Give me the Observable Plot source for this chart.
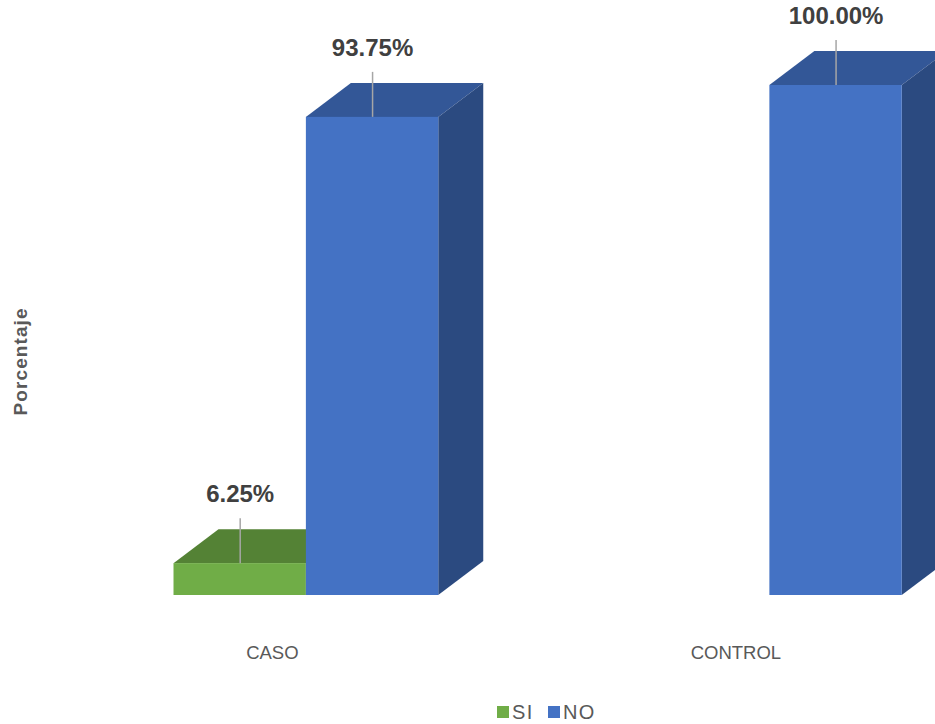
<!DOCTYPE html>
<html>
<head>
<meta charset="utf-8">
<script src="https://cdn.jsdelivr.net/npm/d3@7"></script>
<script src="https://cdn.jsdelivr.net/npm/@observablehq/plot@0.6"></script>
<style>
  html, body { margin: 0; padding: 0; background: #fff; }
  #chart svg { display: block; }
  #legend { height: 24px; display: flex; align-items: center; padding-left: 497px;
            font-family: "Liberation Sans", Arial, sans-serif; font-size: 20px; letter-spacing: 1.5px; color: #595959; }
  #legend .item { display: flex; align-items: center; margin-right: 14px; }
  #legend .sw { width: 12px; height: 12px; margin-right: 3px; }
</style>
</head>
<body>
<div id="chart"></div>
<div id="legend"></div>
<script>
const categories = ["CASO", "CONTROL"];
const series = ["SI", "NO"];
const siValues = [6.25, 0];
const noValues = [93.75, 100];
const frontColors = ["#70AD47", "#4472C4"];
const topColors = ["#548235", "#335797"];
const sideColors = ["#466E2C", "#2B4A80"];

const data = categories.flatMap((c, i) => [
  {category: c, series: "SI", value: siValues[i]},
  {category: c, series: "NO", value: noValues[i]}
]);
const bars = data.filter(d => d.value > 0);
const si = d => series.indexOf(d.series);

const DX = 45, DY = 34;
function face(kind) {
  return function(index, scales, values, dimensions, context, next) {
    const g = next(index, scales, values, dimensions, context);
    const doc = (context && context.document) || document;
    Array.from(g.querySelectorAll("rect")).forEach(r => {
      const x = +r.getAttribute("x"), y = +r.getAttribute("y");
      const w = +r.getAttribute("width"), h = +r.getAttribute("height");
      const pts = kind === "top"
        ? [[x, y], [x + w, y], [x + w + DX, y - DY], [x + DX, y - DY]]
        : [[x + w, y], [x + w + DX, y - DY], [x + w + DX, y + h - DY], [x + w, y + h]];
      const p = doc.createElementNS("http://www.w3.org/2000/svg", "polygon");
      p.setAttribute("points", pts.map(q => q.join(",")).join(" "));
      const f = r.getAttribute("fill");
      if (f) p.setAttribute("fill", f);
      r.replaceWith(p);
    });
    return g;
  };
}

const chart = Plot.plot({
  width: 935,
  height: 700,
  marginTop: 85,
  marginBottom: 105,
  marginLeft: 0,
  marginRight: 0,
  fx: {domain: categories, paddingInner: 0.4288, paddingOuter: 0.22303, align: 0.8392, round: false, label: null},
  x: {domain: series, padding: 0, axis: null, round: false},
  y: {domain: [0, 100], axis: null},
  color: {type: "identity"},
  style: {fontFamily: "'Liberation Sans', Arial, sans-serif", background: "#fff"},
  marks: [
    Plot.barY(bars, {fx: "category", x: "series", y: "value", fill: d => topColors[si(d)], render: face("top")}),
    Plot.barY(bars, {fx: "category", x: "series", y: "value", fill: d => sideColors[si(d)], render: face("side")}),
    Plot.barY(bars, {fx: "category", x: "series", y: "value", fill: d => frontColors[si(d)]}),
    Plot.ruleX(bars, {fx: "category", x: "series", y1: "value", y2: "value", insetTop: -45, stroke: "#A6A6A6", strokeWidth: 1.5}),
    Plot.text(bars, {fx: "category", x: "series", y: "value", text: d => d.value.toFixed(2) + "%",
      dy: -69, fontSize: 24, fontWeight: "bold", fill: "#404040"}),
    Plot.axisFx({anchor: "bottom", tickSize: 0, tickPadding: 50, fontSize: 18.5, dx: -34, color: "#595959", label: null}),
    Plot.text(["Porcentaje"], {frameAnchor: "left", rotate: -90, dx: -153, dy: 75, fontSize: 19,
      fontWeight: "bold", fill: "#595959", facet: "super"})
  ]
});
d3.select(chart).selectAll("text")
  .filter(function() { return this.textContent === "Porcentaje"; })
  .style("letter-spacing", "1.1px");
document.getElementById("chart").append(chart);

const legend = document.getElementById("legend");
series.forEach((s, i) => {
  const item = document.createElement("div");
  item.className = "item";
  const sw = document.createElement("span");
  sw.className = "sw";
  sw.style.background = frontColors[i];
  const t = document.createElement("span");
  t.textContent = s;
  item.append(sw, t);
  legend.append(item);
});
</script>
</body>
</html>
